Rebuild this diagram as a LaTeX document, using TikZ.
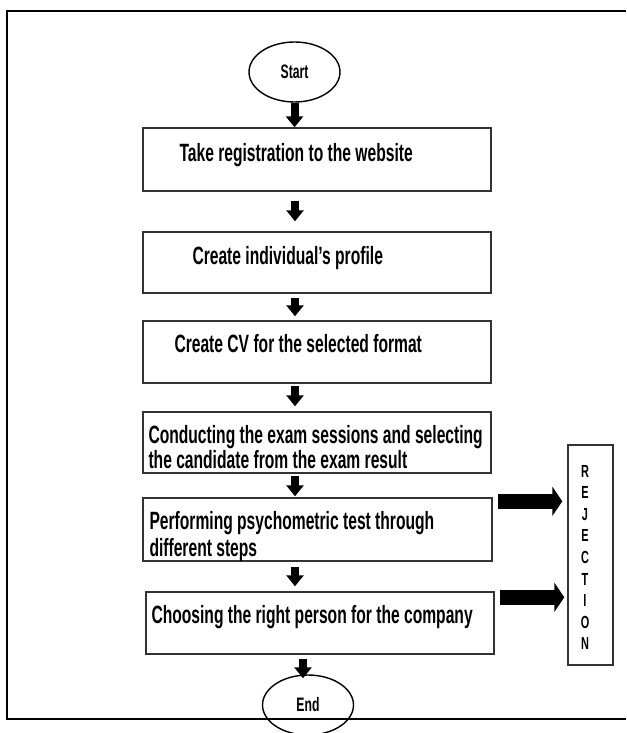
\documentclass[tikz,border=0pt]{standalone}
\usepackage{fontspec}
\newfontfamily\nar{Liberation Sans}[FakeStretch=0.625]
\usetikzlibrary{shapes.geometric,arrows.meta,calc}
\begin{document}
\begin{tikzpicture}[x=1pt,y=-1pt,
  box/.style={draw=black!80,line width=1.4pt,rectangle,inner sep=0pt},
  ell/.style={draw=black,line width=1.4pt,ellipse,inner sep=0pt,minimum width=91pt,minimum height=60pt,font=\nar\bfseries\fontsize{19.5}{22}\selectfont},
  txt/.style={anchor=base west,inner sep=0pt,font=\nar\bfseries\fontsize{25}{28}\selectfont},
  rtxt/.style={anchor=base,inner sep=0pt,font=\nar\bfseries\fontsize{17.5}{20}\selectfont},
  varr/.style={line width=8pt,-{Triangle[length=11pt,width=17pt]}},
  harr/.style={line width=15pt,-{Triangle[length=10pt,width=29pt]}}]
\useasboundingbox (0,0) rectangle (626,733);
\fill[white] (0,0) rectangle (626,733);
% frame (open on the right)
\draw[line width=2.5pt] (626,11) -- (7,11) -- (7,719) -- (626,719);
% terminals
\node[ell] (st) at (294.5,72) {Start};
\node[ell] (en) at (308,705) {End};
% boxes
\node[box,minimum width=348pt,minimum height=63pt] (b1) at (317,159.5) {};
\node[box,minimum width=348pt,minimum height=61pt] (b2) at (317,262.5) {};
\node[box,minimum width=348pt,minimum height=62pt] (b3) at (317,352) {};
\node[box,minimum width=348pt,minimum height=61pt] (b4) at (317,442.5) {};
\node[box,minimum width=349pt,minimum height=63pt] (b5) at (317.5,529.5) {};
\node[box,minimum width=348pt,minimum height=62pt] (b6) at (320,623) {};
\node[box,minimum width=45pt,minimum height=220pt] (rej) at (590.5,555) {};
% texts
\node[txt] (t1) at ($(b1.north west)+(37,34)$) {Take registration to the website};
\node[txt] (t2) at ($(b2.north west)+(50,33.5)$) {Create individual’s profile};
\node[txt] (t3) at ($(b3.north west)+(32,32.5)$) {Create CV for the selected format};
\node[txt] (t4a) at ($(b4.north west)+(6,32)$) {Conducting the exam sessions and selecting};
\node[txt] (t4b) at ($(b4.north west)+(6,57)$) {the candidate from the exam result};
\node[txt] (t5a) at ($(b5.north west)+(7,32)$) {Performing psychometric test through};
\node[txt] (t5b) at ($(b5.north west)+(7,59)$) {different steps};
\node[txt] (t6) at ($(b6.north west)+(6,32)$) {Choosing the right person for the company};
% rejection letters
\foreach \l [count=\i from 0] in {R,E,J,E,C,T,I,O,N}
  \node[rtxt] (r\i) at (585,{477+21.6*\i}) {\l};
% vertical arrows
\draw[varr] (st.south) -- (b1.north -| st.south);
\draw[varr] ($(b1.south -| st.south)+(0.5,9)$) -- ($(b2.north -| st.south)+(0.5,-10)$);
\draw[varr] ($(b2.south -| st.south)+(0.5,4)$) -- ($(b3.north -| st.south)+(0.5,-4)$);
\draw[varr] ($(b3.south -| st.south)+(0.5,2)$) -- ($(b4.north -| st.south)+(0.5,-5)$);
\draw[varr] ($(b4.south -| st.south)+(0.5,2)$) -- ($(b5.north -| st.south)+(0.5,-1)$);
\draw[varr] ($(b5.south -| st.south)+(0.5,5)$) -- ($(b6.north -| st.south)+(0.5,-5)$);
\draw[varr] ($(b6.south -| en.north)+(-5,4)$) -- ($(en.north)+(-5,4)$);
% rejection arrows
\draw[harr] ($(b5.north east)+(5,4)$) -- ($(rej.west |- b5.north east)+(-5,4)$);
\draw[harr] ($(b6.north east)+(5,6)$) -- ($(rej.west |- b6.north east)+(-3,6)$);
\end{tikzpicture}
\end{document}
